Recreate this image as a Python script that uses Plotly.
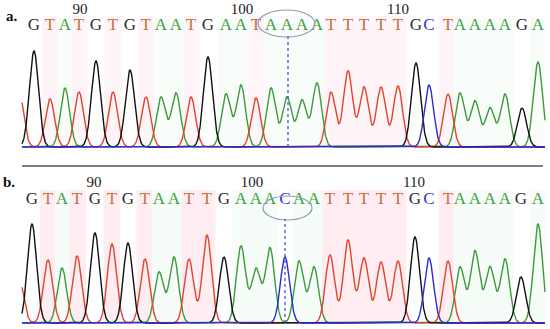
import numpy as np
import plotly.graph_objects as go

# ---------------- data ----------------
seq_a = list("GTATGTGTAATGAATAAAATTTTTGCTAAAAGA")
pos_a = [34, 50, 65, 79, 96, 113, 130, 146, 161, 176, 191, 208, 226, 241, 256, 271, 287,
         302, 317, 331, 348, 364, 381, 398, 416, 429, 448, 460, 475, 490, 505, 522, 538]
ht_a = [96, 48, 59, 55, 86, 55, 77, 50, 50, 54, 50, 90, 53, 62, 49, 59, 50,
        47, 64, 55, 76, 60, 60, 61, 84, 62, 53, 54, 46, 39, 53, 39, 85]

seq_b = list("GTATGTGTAATTGAAACAATTTTTGCTAAAAGA")
pos_b = [32, 48, 62, 77, 95, 112, 128, 145, 159, 174, 189, 207, 224, 241, 256, 270, 285,
         299, 314, 330, 348, 364, 381, 398, 415, 429, 448, 460, 475, 490, 505, 521, 538]
ht_b = [99, 63, 55, 67, 90, 79, 80, 64, 51, 66, 64, 88, 66, 77, 54, 75, 66,
        62, 56, 68, 83, 65, 61, 62, 86, 65, 62, 56, 72, 56, 64, 46, 99]

# partial peak cut by the left edge of each trace window
lead_base = "T"
lead_pos_a, lead_ht_a = 19, 55
lead_pos_b, lead_ht_b = 19, 44

# position numbers above the base row
num_a = ["90", "100", "110", "120"]
num_a_x = [80, 242, 398, 554]
num_b = ["90", "100", "110"]
num_b_x = [94, 252, 414]

# highlighted base
mark_a_x = 288
mark_b_x = 285

# ---------------- styling ----------------
line_col = {"A": "#3c9a3a", "T": "#e2432c", "G": "#111111", "C": "#2b2bd6"}
text_col = {"A": "#3f9f3f", "T": "#c8703e", "G": "#2e2e2e", "C": "#3535d2"}
shade_a = {"A": "rgba(185,235,200,0.10)", "T": "rgba(255,175,195,0.14)"}
shade_b = {"A": "rgba(185,235,200,0.12)", "T": "rgba(255,175,195,0.22)"}
SERIF = "Liberation Serif, Times New Roman, serif"
W, H = 550, 329
X0, X1 = 22, 545
SIG = 4.6

fig = go.Figure()


def channels(seq, pos, ht, lead_pos, lead_ht):
    xs = np.arange(X0, X1 + 0.01, 0.25)
    out = {}
    for b in "ATGC":
        y = np.zeros_like(xs)
        for s, p, h in zip(seq, pos, ht):
            if s == b:
                y += h * np.exp(-(xs - p) ** 2 / (2 * SIG ** 2))
        if b == lead_base:
            y += lead_ht * np.exp(-(xs - lead_pos) ** 2 / (2 * SIG ** 2))
        out[b] = y
    return xs, out


def add_panel(seq, pos, ht, lead_pos, lead_ht, xa, ya, letter_y, num, num_x, num_y, shade):
    xs, ch = channels(seq, pos, ht, lead_pos, lead_ht)
    for b in ["A", "T", "G", "C"]:
        fig.add_trace(go.Scatter(x=xs, y=ch[b], mode="lines", xaxis=xa, yaxis=ya,
                                 line=dict(color=line_col[b], width=1.4),
                                 hoverinfo="skip", showlegend=False))
    fig.add_trace(go.Scatter(
        x=pos, y=[letter_y] * len(seq), mode="text", text=seq, xaxis=xa, yaxis=ya,
        textfont=dict(family=SERIF, size=17, color=[text_col[s] for s in seq]),
        cliponaxis=False, hoverinfo="skip", showlegend=False))
    fig.add_trace(go.Scatter(
        x=num_x, y=[num_y] * len(num), mode="text", text=num, xaxis=xa, yaxis=ya,
        textfont=dict(family=SERIF, size=15, color="#222222"),
        cliponaxis=False, hoverinfo="skip", showlegend=False))
    xr = "x" if xa == "x" else "x2"
    yr = "y" if ya == "y" else "y2"
    for i, (s, p) in enumerate(zip(seq, pos)):
        left = (pos[i - 1] + p) / 2 if i > 0 else p - 8
        right = (pos[i + 1] + p) / 2 if i < len(pos) - 1 else p + 7
        if s in shade:
            fig.add_shape(type="rect", xref=xr, yref=yr, x0=left, x1=right, y0=0,
                          y1=letter_y + 10, fillcolor=shade[s], line_width=0,
                          layer="below")


add_panel(seq_a, pos_a, ht_a, lead_pos_a, lead_ht_a, "x", "y", 121, num_a, num_a_x, 137, shade_a)
add_panel(seq_b, pos_b, ht_b, lead_pos_b, lead_ht_b, "x2", "y2", 123, num_b, num_b_x, 140, shade_b)

# highlight ellipses and dotted markers
fig.add_shape(type="circle", xref="x", yref="y", x0=258, x1=315, y0=110, y1=137,
              line=dict(color="#8d9bb8", width=1.2))
fig.add_shape(type="circle", xref="x2", yref="y2", x0=263, x1=312, y0=103, y1=127,
              line=dict(color="#8d9bb8", width=1.2))
fig.add_shape(type="line", xref="x", yref="y", x0=mark_a_x, x1=mark_a_x, y0=0, y1=112,
              line=dict(color="#3344dd", width=1.2, dash="dot"))
fig.add_shape(type="line", xref="x2", yref="y2", x0=mark_b_x, x1=mark_b_x, y0=0, y1=104,
              line=dict(color="#3344dd", width=1.2, dash="dot"))

# separator line between panels
sep_y = (H - 166) / H
fig.add_shape(type="line", xref="paper", yref="paper", x0=22 / W, x1=543 / W,
              y0=sep_y, y1=sep_y, line=dict(color="#555555", width=1.5))

# panel labels
fig.add_annotation(x=12, y=131, xref="x", yref="y", text="<b>a.</b>", showarrow=False,
                   font=dict(family=SERIF, size=15, color="#111111"))
fig.add_annotation(x=9, y=141, xref="x2", yref="y2", text="<b>b.</b>", showarrow=False,
                   font=dict(family=SERIF, size=15, color="#111111"))

ax_common = dict(range=[0, W], visible=False, showgrid=False, zeroline=False, fixedrange=True)
fig.update_layout(
    width=W, height=H,
    margin=dict(l=0, r=0, t=0, b=0),
    paper_bgcolor="white", plot_bgcolor="white",
    xaxis=dict(domain=[0, 1], anchor="y", **ax_common),
    xaxis2=dict(domain=[0, 1], anchor="y2", **ax_common),
    yaxis=dict(domain=[(H - 149) / H, 1], range=[-2, 147], visible=False,
               showgrid=False, zeroline=False, fixedrange=True),
    yaxis2=dict(domain=[(H - 326) / H, (H - 166) / H], range=[-3, 157], visible=False,
                showgrid=False, zeroline=False, fixedrange=True),
    showlegend=False,
    hovermode=False,
)

# remove the browser's default page margin so the figure sits at the window origin
fig.write_html("out.html",
               config={"displayModeBar": False, "staticPlot": True},
               post_script="document.body.style.margin='0';document.body.style.overflow='hidden';")
